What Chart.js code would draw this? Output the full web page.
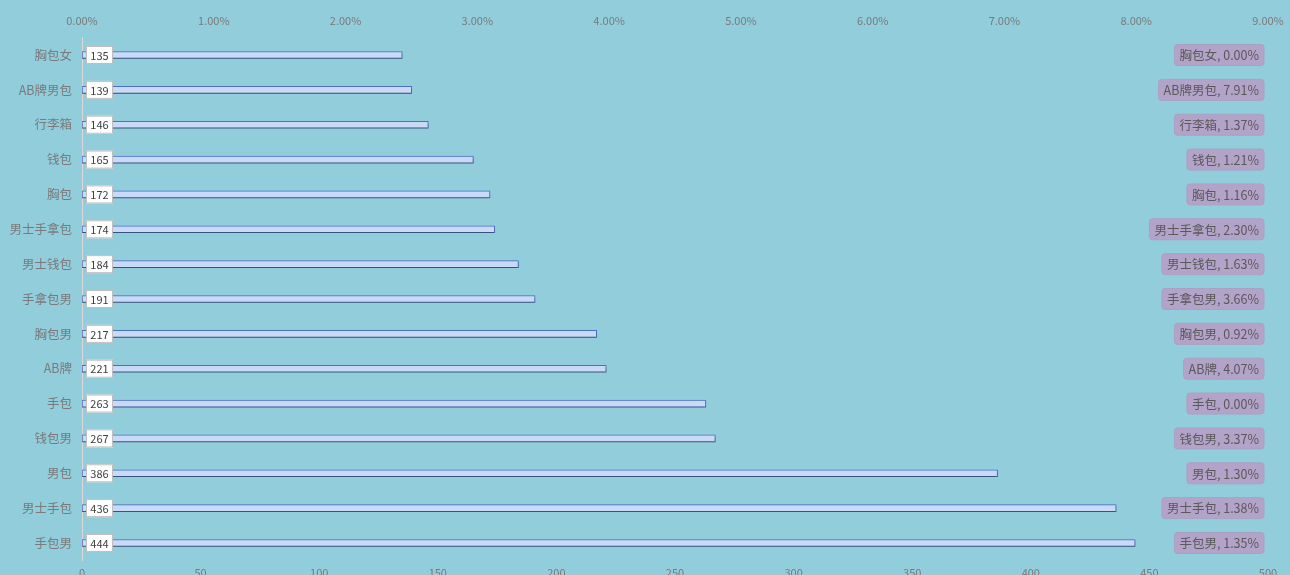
<!DOCTYPE html>
<html>
<head>
<meta charset="utf-8">
<script src="https://cdn.jsdelivr.net/npm/chart.js@4/dist/chart.umd.min.js"></script>
<style>
  html, body { margin: 0; padding: 0; background: #92cddc; }
  #wrap { width: 1290px; height: 575px; }
</style>
</head>
<body>
<div id="wrap"><canvas id="chart"></canvas></div>
<script>
// keyword data, top to bottom
const categories = ['胸包女', 'AB牌男包', '行李箱', '钱包', '胸包', '男士手拿包', '男士钱包', '手拿包男', '胸包男', 'AB牌', '手包', '钱包男', '男包', '男士手包', '手包男'];
const searches = [135, 139, 146, 165, 172, 174, 184, 191, 217, 221, 263, 267, 386, 436, 444];
const shares = [0.0000, 0.0791, 0.0137, 0.0121, 0.0116, 0.0230, 0.0163, 0.0366, 0.0092, 0.0407, 0.0000, 0.0337, 0.0130, 0.0138, 0.0135];

const FONT = '"Noto Sans CJK SC", "Liberation Sans", sans-serif';

function roundRect(ctx, x, y, w, h, r) {
    ctx.beginPath();
    ctx.moveTo(x + r, y);
    ctx.lineTo(x + w - r, y);
    ctx.quadraticCurveTo(x + w, y, x + w, y + r);
    ctx.lineTo(x + w, y + h - r);
    ctx.quadraticCurveTo(x + w, y + h, x + w - r, y + h);
    ctx.lineTo(x + r, y + h);
    ctx.quadraticCurveTo(x, y + h, x, y + h - r);
    ctx.lineTo(x, y + r);
    ctx.quadraticCurveTo(x, y, x + r, y);
    ctx.closePath();
}

// keep the plot area where the fixed axis sizes put it
function noEdgePad(s) {
    s.paddingLeft = 0;
    s.paddingRight = 0;
    s.paddingTop = 0;
    s.paddingBottom = 0;
}

// soft shadow under the bars
const barShadow = {
    id: 'barShadow',
    beforeDatasetDraw(chart, args) {
        if (args.index !== 0) return;
        const ctx = chart.ctx;
        ctx.save();
        ctx.shadowColor = 'rgba(40,60,70,0.6)';
        ctx.shadowOffsetY = 2;
        ctx.shadowOffsetX = 0;
        ctx.shadowBlur = 2;
    },
    afterDatasetDraw(chart, args) {
        if (args.index !== 0) return;
        chart.ctx.restore();
    }
};

// white value boxes at the bar base, purple share boxes at the right
const labelBoxes = {
    id: 'labelBoxes',
    afterDatasetsDraw(chart) {
        const ctx = chart.ctx;
        const x = chart.scales.x;
        const y = chart.scales.y;
        const area = chart.chartArea;
        ctx.save();
        ctx.textBaseline = 'middle';
        categories.forEach((cat, i) => {
            const cy = y.getPixelForValue(i);

            // value box
            const bx = x.getPixelForValue(0) + 4;
            ctx.fillStyle = '#ffffff';
            ctx.fillRect(bx, cy - 9, 27, 18);
            ctx.strokeStyle = '#bfbfbf';
            ctx.lineWidth = 1;
            ctx.strokeRect(bx + 0.5, cy - 8.5, 26, 17);
            ctx.fillStyle = '#404040';
            ctx.font = '11px ' + FONT;
            ctx.textAlign = 'center';
            ctx.fillText(String(searches[i]), bx + 13.5, cy + 0.5);

            // share box
            const txt = cat + ', ' + (shares[i] * 100).toFixed(2) + '%';
            ctx.font = '12.5px ' + FONT;
            const w = ctx.measureText(txt).width + 10;
            const rx = area.right - 4;
            roundRect(ctx, rx - w, cy - 10.5, w, 21, 3);
            ctx.fillStyle = '#b3a3c9';
            ctx.fill();
            ctx.strokeStyle = '#a9a2c2';
            ctx.stroke();
            ctx.fillStyle = '#595959';
            ctx.textAlign = 'right';
            ctx.fillText(txt, rx - 5, cy + 0.5);
        });
        ctx.restore();
    }
};

new Chart(document.getElementById('chart'), {
    type: 'bar',
    data: {
        labels: categories,
        datasets: [
            {
                label: '搜索人气',
                data: searches,
                xAxisID: 'x',
                grouped: false,
                barThickness: 7,
                backgroundColor: '#c9d9f7',
                borderColor: '#4a70c2',
                borderWidth: 1,
                borderSkipped: false
            },
            {
                label: '占比',
                data: shares,
                xAxisID: 'x2',
                grouped: false,
                barThickness: 7,
                backgroundColor: 'rgba(0,0,0,0)',
                borderWidth: 0
            }
        ]
    },
    options: {
        indexAxis: 'y',
        responsive: true,
        maintainAspectRatio: false,
        animation: false,
        layout: { padding: { left: 0, right: 22, top: 0, bottom: 0 } },
        plugins: {
            legend: { display: false },
            tooltip: { enabled: false }
        },
        scales: {
            x: {
                position: 'bottom',
                min: 0,
                max: 500,
                grid: { display: false, drawTicks: false },
                border: { display: false },
                ticks: {
                    stepSize: 50,
                    padding: 6,
                    color: '#7a7a7a',
                    font: { family: FONT, size: 11 }
                },
                afterFit: s => { s.height = 14.6; noEdgePad(s); }
            },
            x2: {
                position: 'top',
                min: 0,
                max: 0.09,
                grid: { display: false, drawTicks: false },
                border: { display: false },
                ticks: {
                    stepSize: 0.01,
                    padding: 10,
                    color: '#7a7a7a',
                    font: { family: FONT, size: 11 },
                    callback: v => (v * 100).toFixed(2) + '%'
                },
                afterFit: s => { s.height = 37.6; noEdgePad(s); }
            },
            y: {
                grid: { display: false, drawTicks: false },
                border: { display: true, color: '#d9d9d9', width: 1 },
                ticks: {
                    padding: 10,
                    color: '#7a7a7a',
                    font: { family: FONT, size: 12.5 }
                },
                afterFit: s => { s.width = 82; noEdgePad(s); }
            }
        }
    },
    plugins: [barShadow, labelBoxes]
});
</script>
</body>
</html>
